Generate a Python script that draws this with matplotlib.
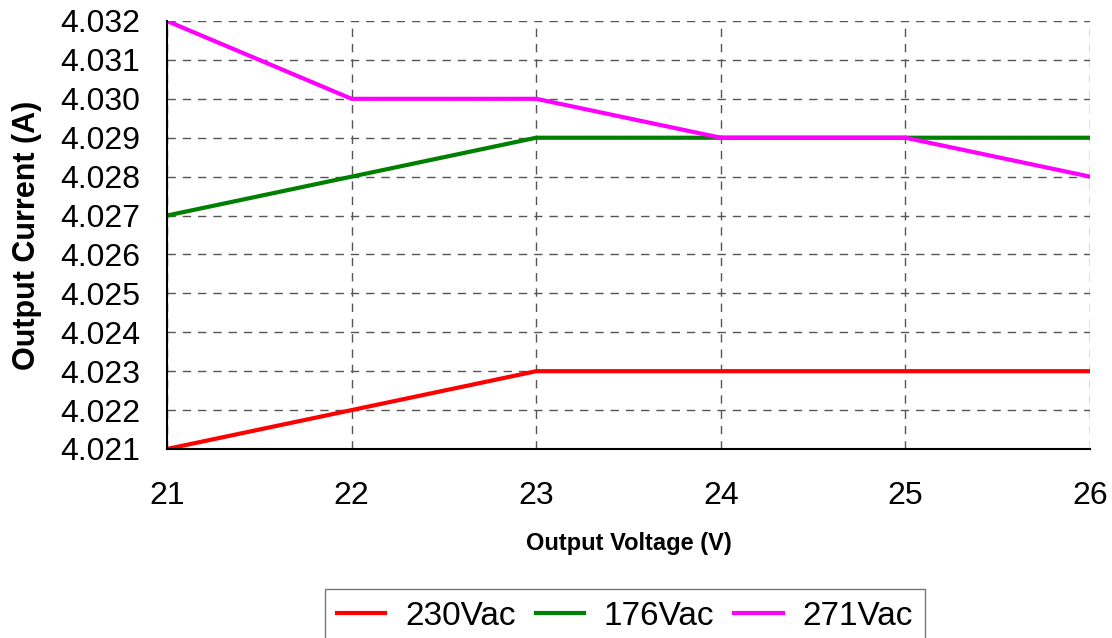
import matplotlib
matplotlib.use('Agg')
import matplotlib.pyplot as plt

# Output current vs output voltage at three input voltages
voltage = [21, 22, 23, 24, 25, 26]
i_230 = [4.021, 4.022, 4.023, 4.023, 4.023, 4.023]
i_176 = [4.027, 4.028, 4.029, 4.029, 4.029, 4.029]
i_271 = [4.032, 4.030, 4.030, 4.029, 4.029, 4.028]
yticks = [4.021, 4.022, 4.023, 4.024, 4.025, 4.026, 4.027, 4.028,
          4.029, 4.030, 4.031, 4.032]

plt.rcParams['font.family'] = ['Liberation Sans', 'DejaVu Sans']

fig = plt.figure(figsize=(11.12, 6.38), dpi=100)
ax = fig.add_axes([167 / 1112, 1 - 449 / 638, (1090 - 167) / 1112, (449 - 21) / 638])

ax.plot(voltage, i_230, color='#ff0000', lw=3, label='230Vac', zorder=3)
ax.plot(voltage, i_176, color='#008000', lw=3, label='176Vac', zorder=3)
ax.plot(voltage, i_271, color='#ff00ff', lw=3, label='271Vac', zorder=3)

ax.set_xlim(21, 26)
ax.set_ylim(4.021, 4.032)
ax.set_xticks(voltage)
ax.set_yticks(yticks)
ax.set_yticklabels(['%.3f' % v for v in yticks])
ax.tick_params(axis='x', length=0, pad=23, labelsize=23)
ax.tick_params(axis='y', length=0, pad=19, labelsize=23)

ax.grid(True, color='#555555', linestyle=(0, (6, 5)), linewidth=1)
for s in ['top', 'right']:
    ax.spines[s].set_visible(False)
for s in ['left', 'bottom']:
    ax.spines[s].set_linewidth(1.5)
    ax.spines[s].set_zorder(4)

ax.set_ylabel('Output Current (A)', fontsize=22, fontweight='bold')
ax.yaxis.set_label_coords(-0.135, 0.5)
ax.set_xlabel('Output Voltage (V)', fontsize=17, fontweight='bold', labelpad=15)

leg = fig.legend(loc='upper center', bbox_to_anchor=(0.562, 1 - 589 / 638),
                 ncol=3, fontsize=24, frameon=True, fancybox=False,
                 edgecolor='#555555', handlelength=1.45, handletextpad=0.6,
                 columnspacing=0.6, borderpad=0.35, borderaxespad=0)
leg.get_frame().set_linewidth(1)

fig.savefig('out.png', dpi=100)
